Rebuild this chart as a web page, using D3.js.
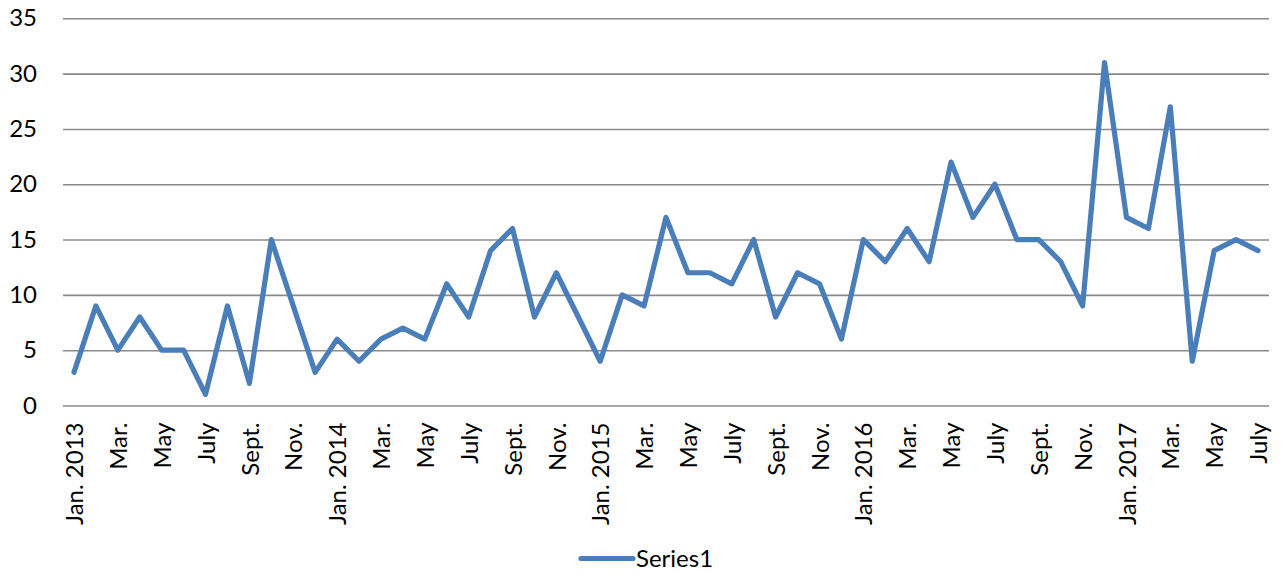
<!DOCTYPE html>
<html>
<head>
<meta charset="utf-8">
<script src="https://cdn.jsdelivr.net/npm/d3@7"></script>
<style>
  html, body { margin: 0; padding: 0; background: #fff; }
  svg { display: block; }
  text { font-family: Lato, "Open Sans", sans-serif; fill: #000; }
</style>
</head>
<body>
<svg id="chart" width="1283" height="574"></svg>
<script>
// Monthly categories, Jan. 2013 through July 2017
const categories = [
  "Jan. 2013", "Feb.", "Mar.", "Apr.", "May", "June", "July", "Aug.", "Sept.", "Oct.", "Nov.", "Dec.",
  "Jan. 2014", "Feb.", "Mar.", "Apr.", "May", "June", "July", "Aug.", "Sept.", "Oct.", "Nov.", "Dec.",
  "Jan. 2015", "Feb.", "Mar.", "Apr.", "May", "June", "July", "Aug.", "Sept.", "Oct.", "Nov.", "Dec.",
  "Jan. 2016", "Feb.", "Mar.", "Apr.", "May", "June", "July", "Aug.", "Sept.", "Oct.", "Nov.", "Dec.",
  "Jan. 2017", "Feb.", "Mar.", "Apr.", "May", "June", "July"
];

// Series1 values, one per month
const series1 = [
  3, 9, 5, 8, 5, 5, 1, 9, 2, 15, 9, 3,
  6, 4, 6, 7, 6, 11, 8, 14, 16, 8, 12, 8,
  4, 10, 9, 17, 12, 12, 11, 15, 8, 12, 11, 6,
  15, 13, 16, 13, 22, 17, 20, 15, 15, 13, 9, 31,
  17, 16, 27, 4, 14, 15, 14
];

const yTicks = [0, 5, 10, 15, 20, 25, 30, 35];
const seriesName = "Series1";

const svg = d3.select("#chart");
const plot = { left: 63, right: 1269, top: 18.3, bottom: 405.5 };

const x = d3.scalePoint()
  .domain(d3.range(categories.length))
  .range([plot.left, plot.right])
  .padding(0.5);

const y = d3.scaleLinear()
  .domain([0, 35])
  .range([plot.bottom, plot.top]);

// Horizontal gridlines with value labels
const yAxis = d3.axisLeft(y)
  .tickValues(yTicks)
  .tickSize(-(plot.right - plot.left))
  .tickPadding(26)
  .tickFormat(d3.format("d"));

const gy = svg.append("g")
  .attr("transform", `translate(${plot.left},0)`)
  .call(yAxis);
gy.select(".domain").remove();
gy.selectAll(".tick line")
  .attr("stroke", "#8a8a8a")
  .attr("stroke-width", 1.6);
gy.selectAll(".tick text")
  .attr("font-size", 24)
  .attr("font-family", "Lato, 'Open Sans', sans-serif")
  .attr("fill", "#000");

// Category labels, every second month, rotated
const labelIdx = d3.range(0, categories.length, 2);
const xAxis = d3.axisBottom(x)
  .tickValues(labelIdx)
  .tickSize(0)
  .tickFormat(i => categories[i]);

const gx = svg.append("g")
  .attr("transform", `translate(0,${plot.bottom})`)
  .call(xAxis);
gx.select(".domain").remove();
gx.selectAll(".tick text")
  .attr("font-size", 24)
  .attr("font-family", "Lato, 'Open Sans', sans-serif")
  .attr("fill", "#000")
  .attr("text-anchor", "end")
  .attr("transform", "translate(0,17) rotate(-90)")
  .attr("x", 0)
  .attr("y", 0)
  .attr("dy", "0.36em");

// Series line
const line = d3.line()
  .x((d, i) => x(i))
  .y(d => y(d));

svg.append("path")
  .datum(series1)
  .attr("d", line)
  .attr("fill", "none")
  .attr("stroke", "#4a7ebb")
  .attr("stroke-width", 5.2)
  .attr("stroke-linejoin", "round")
  .attr("stroke-linecap", "round");

// Legend
const legend = svg.append("g").attr("transform", "translate(580,558.5)");
legend.append("line")
  .attr("x1", 1).attr("x2", 53)
  .attr("y1", 0).attr("y2", 0)
  .attr("stroke", "#4a7ebb")
  .attr("stroke-width", 5.2)
  .attr("stroke-linecap", "round");
legend.append("text")
  .attr("x", 56)
  .attr("y", 0)
  .attr("dy", "0.36em")
  .attr("font-size", 24)
  .text(seriesName);
</script>
</body>
</html>
